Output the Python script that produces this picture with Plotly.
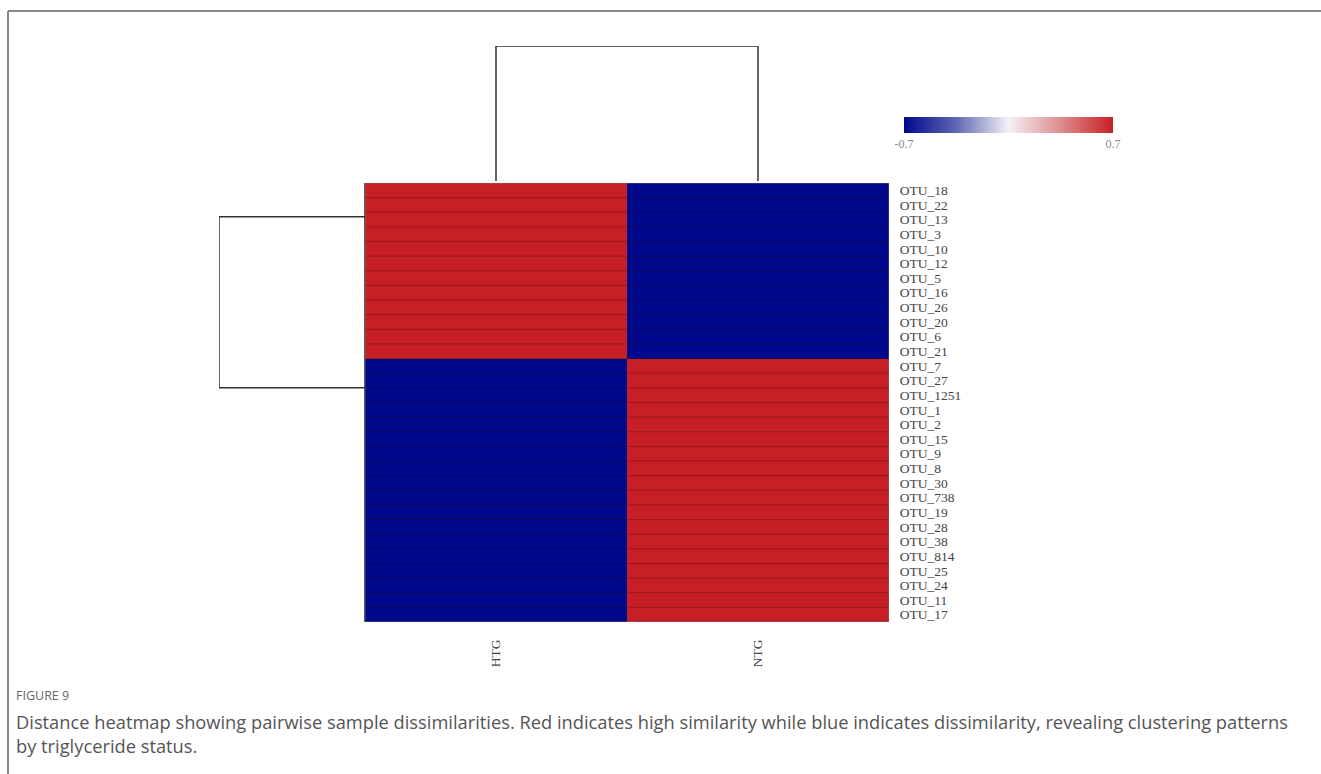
import plotly.graph_objects as go

W, H = 1321, 774

groups = ["HTG", "NTG"]
otu_labels = ["OTU_18", "OTU_22", "OTU_13", "OTU_3", "OTU_10", "OTU_12", "OTU_5", "OTU_16",
              "OTU_26", "OTU_20", "OTU_6", "OTU_21", "OTU_7", "OTU_27", "OTU_1251", "OTU_1",
              "OTU_2", "OTU_15", "OTU_9", "OTU_8", "OTU_30", "OTU_738", "OTU_19", "OTU_28",
              "OTU_38", "OTU_814", "OTU_25", "OTU_24", "OTU_11", "OTU_17"]
htg_values = [0.7, 0.7, 0.7, 0.7, 0.7, 0.7, 0.7, 0.7, 0.7, 0.7, 0.7, 0.7,
              -0.7, -0.7, -0.7, -0.7, -0.7, -0.7, -0.7, -0.7, -0.7, -0.7, -0.7, -0.7,
              -0.7, -0.7, -0.7, -0.7, -0.7, -0.7]
ntg_values = [-0.7, -0.7, -0.7, -0.7, -0.7, -0.7, -0.7, -0.7, -0.7, -0.7, -0.7, -0.7,
              0.7, 0.7, 0.7, 0.7, 0.7, 0.7, 0.7, 0.7, 0.7, 0.7, 0.7, 0.7,
              0.7, 0.7, 0.7, 0.7, 0.7, 0.7]
color_range = [-0.7, 0.7]
color_ticktext = ["-0.7", "0.7"]
# dendrogram node positions (in leaf index units) and heights
col_dendro_leaves = [0, 1]
col_dendro_height = 1.0
row_dendro_nodes = [1.8, 13.5]
row_dendro_height = 1.0

colorscale = [[0.0, "#00098C"], [0.25, "#5F67B4"], [0.5, "#F5F0F7"], [0.75, "#DE8C8E"], [1.0, "#C62026"]]

def px(x):
    return x / W

def py(y):
    return 1 - y / H

hm_x = [px(365), px(889)]
hm_y = [py(622), py(183)]

n = len(otu_labels)
z = [[htg_values[i], ntg_values[i]] for i in range(n)]

fig = go.Figure()
fig.add_trace(go.Heatmap(
    z=z, x=list(range(len(groups))), y=list(range(n)),
    zmin=color_range[0], zmax=color_range[1], colorscale=colorscale,
    xaxis="x", yaxis="y", hoverinfo="skip",
    colorbar=dict(orientation="h", x=px(1008.5), xanchor="center", lenmode="pixels", len=209,
                  xpad=0, ypad=0,
                  y=py(117), yanchor="top", thickness=16, outlinewidth=0,
                  tickvals=color_range, ticktext=color_ticktext, ticks="",
                  tickfont=dict(family="Liberation Serif", size=12, color="#888")),
))

lc = "#333333"
# top dendrogram
a, b = col_dendro_leaves
fig.add_trace(go.Scatter(x=[a, a, b, b], y=[0, col_dendro_height, col_dendro_height, 0],
                         mode="lines", line=dict(color=lc, width=1.5), xaxis="x2", yaxis="y2",
                         cliponaxis=False, hoverinfo="skip", showlegend=False))
# left dendrogram
r1, r2 = row_dendro_nodes
fig.add_trace(go.Scatter(x=[0, row_dendro_height, row_dendro_height, 0], y=[r1, r1, r2, r2],
                         mode="lines", line=dict(color=lc, width=1.5), xaxis="x3", yaxis="y3",
                         cliponaxis=False, hoverinfo="skip", showlegend=False))
fig.add_trace(go.Scatter(x=[0, 0], y=[-0.5, n - 0.5],
                         mode="lines", line=dict(color="#222", width=1.5), xaxis="x3", yaxis="y3",
                         cliponaxis=False, hoverinfo="skip", showlegend=False))

shapes = []
for i in range(1, n):
    shapes.append(dict(type="line", xref="x", yref="y", x0=-0.5, x1=len(groups) - 0.5,
                       y0=i - 0.5, y1=i - 0.5, line=dict(color="rgba(60,0,0,0.3)", width=1)))
shapes.append(dict(type="rect", xref="x", yref="y", x0=-0.5, x1=len(groups) - 0.5,
                   y0=-0.5, y1=n - 0.5, line=dict(color="rgba(120,120,120,0.7)", width=1)))
# frame
shapes.append(dict(type="line", xref="paper", yref="paper", x0=px(8), x1=1.0, y0=py(11), y1=py(11),
                   line=dict(color="#8a8a8a", width=2)))
shapes.append(dict(type="line", xref="paper", yref="paper", x0=px(8), x1=px(8), y0=py(11), y1=0,
                   line=dict(color="#8a8a8a", width=2)))

caption = ("Distance heatmap showing pairwise sample dissimilarities. Red indicates high similarity "
           "while blue indicates dissimilarity, revealing clustering patterns<br>by triglyceride status.")
annotations = [
    dict(text="FIGURE 9", xref="paper", yref="paper", x=px(14), y=py(706), xanchor="left",
         yanchor="bottom", showarrow=False, font=dict(family="Open Sans", size=12.5, color="#666")),
    dict(text=caption, xref="paper", yref="paper", x=px(14), y=py(707), xanchor="left",
         yanchor="top", align="left", showarrow=False,
         font=dict(family="Open Sans", size=18.3, color="#555")),
]

serif = dict(family="Liberation Serif", size=13.5, color="#444")
fig.update_layout(
    width=W, height=H, margin=dict(l=0, r=0, t=0, b=0),
    paper_bgcolor="white", plot_bgcolor="white", showlegend=False,
    xaxis=dict(domain=hm_x, range=[-0.5, 1.5], tickvals=list(range(len(groups))), ticktext=groups,
               tickangle=-90, tickfont=serif, ticks="outside", ticklen=11, tickcolor="rgba(0,0,0,0)",
               showgrid=False, zeroline=False, showline=False, automargin=False, fixedrange=True),
    yaxis=dict(domain=hm_y, range=[n - 0.5, -0.5], tickvals=list(range(n)), ticktext=otu_labels,
               side="right", tickfont=serif, ticks="outside", ticklen=7, tickcolor="rgba(0,0,0,0)",
               showgrid=False, zeroline=False, showline=False, automargin=False, fixedrange=True),
    xaxis2=dict(domain=hm_x, range=[-0.5, 1.5], visible=False, anchor="y2"),
    yaxis2=dict(domain=[py(181), py(46)], range=[0, 1], visible=False, anchor="x2"),
    xaxis3=dict(domain=[px(219), px(365)], range=[1, 0], visible=False, anchor="y3"),
    yaxis3=dict(domain=hm_y, range=[n - 0.5, -0.5], visible=False, anchor="x3"),
    shapes=shapes, annotations=annotations,
)

fig.write_html("out.html")
